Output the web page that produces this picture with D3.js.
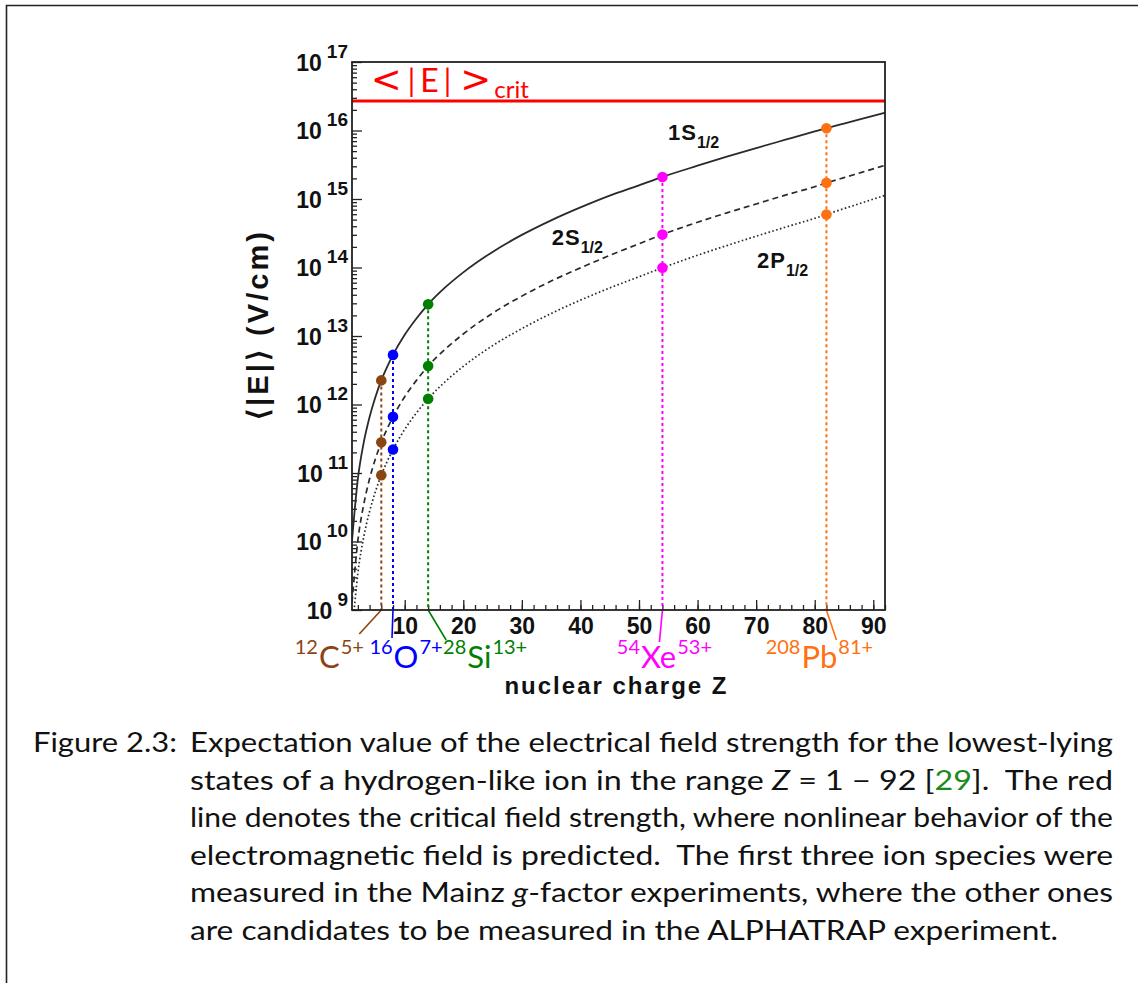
<!DOCTYPE html>
<html>
<head>
<meta charset="utf-8">
<script src="https://cdn.jsdelivr.net/npm/d3@7"></script>
<style>
  html, body { margin: 0; padding: 0; background: #fff; }
  svg { display: block; }
</style>
</head>
<body>
<svg id="fig" width="1138" height="983"></svg>
<script>
// ---- data -------------------------------------------------------------
// nuclear charge grid used for the three bound-state curves
const zGrid = [1, 2, 3, 4, 5, 6, 7, 8, 10, 12, 14, 17, 20, 25, 30, 35, 40, 45, 50, 54, 60, 65, 70, 75, 80, 82, 85, 88, 92];

// expectation value <|E|> in V/cm for each state
const field1S = [1.03e10, 8.2e10, 2.78e11, 6.58e11, 1.29e12, 2.25e12, 3.54e12, 5.3e12, 1.04e13, 1.80e13, 2.9e13,
                 5.2e13, 8.5e13, 1.69e14, 2.99e14, 4.88e14, 7.53e14, 1.12e15, 1.58e15, 2.1e15, 3.06e15, 4.15e15,
                 5.54e15, 7.33e15, 9.68e15, 1.08e16, 1.26e16, 1.48e16, 1.82e16];
const field2S = [1.29e9, 1.03e10, 3.47e10, 8.22e10, 1.61e11, 2.8e11, 4.42e11, 6.6e11, 1.30e12, 2.25e12, 3.65e12,
                 6.53e12, 1.07e13, 2.15e13, 3.82e13, 6.34e13, 9.87e13, 1.50e14, 2.22e14, 3.03e14, 4.58e14, 6.28e14,
                 8.46e14, 1.14e15, 1.51e15, 1.72e15, 2.05e15, 2.45e15, 3.1e15];
const field2P = [4.3e8, 3.43e9, 1.16e10, 2.74e10, 5.35e10, 9.3e10, 1.47e11, 2.2e11, 4.33e11, 7.55e11, 1.21e12,
                 2.19e12, 3.6e12, 7.23e12, 1.28e13, 2.13e13, 3.34e13, 5.03e13, 7.33e13, 9.9e13, 1.51e14, 2.09e14,
                 2.86e14, 3.88e14, 5.22e14, 5.95e14, 7.23e14, 8.76e14, 1.13e15];

const stateNames = ["1S", "2S", "2P"];
const stateSub = "1/2";

// critical field strength
const critField = 2.7e16;

// ion species marked on the curves
const ionZ      = [6, 8, 14, 54, 82];
const ionMass   = ["12", "16", "28", "54", "208"];
const ionSymbol = ["C", "O", "Si", "Xe", "Pb"];
const ionCharge = ["5+", "7+", "13+", "53+", "81+"];

// axis ticks
const xMajorTicks = [10, 20, 30, 40, 50, 60, 70, 80, 90];
const xMinorTicks = d3.range(2, 93, 2);
const yDecades = [9, 10, 11, 12, 13, 14, 15, 16, 17];

// caption
const captionHead = "Figure 2.3:";
const captionLines = [
  [{t: "Expectation value of the electrical field strength for the lowest-lying"}],
  [{t: "states of a hydrogen-like ion in the range "}, {t: "Z", i: true}, {t: " = 1 \u2212 92 ["}, {t: "29", c: "link"}, {t: "].  The red"}],
  [{t: "line denotes the critical field strength, where nonlinear behavior of the"}],
  [{t: "electromagnetic field is predicted.  The first three ion species were"}],
  [{t: "measured in the Mainz "}, {t: "g", i: true}, {t: "-factor experiments, where the other ones"}],
  [{t: "are candidates to be measured in the ALPHATRAP experiment."}]
];

// ---- styling -----------------------------------------------------------
const ionColors = ["#8b4513", "#0000ff", "#008000", "#ff00ff", "#ff7010"];
const stateDash = [null, "6,4", "1.6,2.4"];
const ROOTFONT = "'Liberation Sans', Arial, Helvetica, sans-serif";
const TEXFONT = "Lato, 'Open Sans', sans-serif";
const SYMFONT = "'DejaVu Sans', sans-serif";

// ---- layout -------------------------------------------------------------
const svg = d3.select("#fig");
const plot = {left: 352, top: 62, right: 885, bottom: 610};

const x = d3.scaleLinear().domain([1, 92]).range([plot.left, plot.right]);
const y = d3.scaleLog().domain([1e9, 1e17]).range([plot.bottom, plot.top]);

// page border (open to the right and bottom)
svg.append("path")
  .attr("d", "M6.5,983 V5.5 H1138")
  .attr("fill", "none").attr("stroke", "#222").attr("stroke-width", 1.6);

// clip for the curves
svg.append("clipPath").attr("id", "plotClip")
  .append("rect")
  .attr("x", plot.left).attr("y", plot.top)
  .attr("width", plot.right - plot.left).attr("height", plot.bottom - plot.top);

// ---- axes -------------------------------------------------------------
const gx = svg.append("g").attr("transform", `translate(0,${plot.bottom})`);
gx.append("g")
  .call(d3.axisBottom(x).tickValues(xMinorTicks).tickSize(-5).tickFormat(""))
  .call(g => g.select(".domain").remove());
gx.append("g")
  .call(d3.axisBottom(x).tickValues(xMajorTicks).tickSize(-10).tickPadding(8).tickFormat(d3.format("d")))
  .call(g => g.select(".domain").remove())
  .call(g => g.selectAll("text").attr("font-family", ROOTFONT).attr("font-weight", "bold")
                .attr("font-size", 23).attr("fill", "#111"));
gx.selectAll("line").attr("stroke", "#222").attr("stroke-width", 1.3);

const yMinor = [];
yDecades.slice(0, -1).forEach(d => { for (let k = 2; k <= 9; k++) yMinor.push(k * Math.pow(10, d)); });
const yMajor = yDecades.map(d => Math.pow(10, d));

const gy = svg.append("g").attr("transform", `translate(${plot.left},0)`);
gy.append("g")
  .call(d3.axisLeft(y).tickValues(yMinor).tickSize(-5).tickFormat(""))
  .call(g => g.select(".domain").remove());
gy.append("g")
  .call(d3.axisLeft(y).tickValues(yMajor).tickSize(-10).tickPadding(4).tickFormat(""))
  .call(g => g.select(".domain").remove())
  .call(g => g.selectAll(".tick text").each(function(d) {
      const t = d3.select(this)
        .attr("font-family", ROOTFONT).attr("font-weight", "bold").attr("fill", "#111")
        .attr("dy", null).attr("x", -4);
      t.append("tspan").attr("font-size", 23).attr("dy", 8).text("10");
      t.append("tspan").attr("font-size", 19).attr("dx", 5).attr("dy", -13)
        .text(Math.round(Math.log10(d)));
  }));
gy.selectAll("line").attr("stroke", "#222").attr("stroke-width", 1.3);

// ---- curves -------------------------------------------------------------
const series = [field1S, field2S, field2P];
const line = d3.line()
  .x((d, i) => x(zGrid[i]))
  .y(d => y(d))
  .curve(d3.curveMonotoneX);

const curves = svg.append("g").attr("clip-path", "url(#plotClip)");
series.forEach((vals, k) => {
  curves.append("path")
    .datum(vals)
    .attr("d", line)
    .attr("fill", "none")
    .attr("stroke", "#2a2a2a")
    .attr("stroke-width", k === 0 ? 1.8 : 1.7)
    .attr("stroke-dasharray", stateDash[k]);
});

// critical field line
svg.append("line")
  .attr("x1", plot.left).attr("x2", plot.right)
  .attr("y1", y(critField)).attr("y2", y(critField))
  .attr("stroke", "#ff0000").attr("stroke-width", 3);

// <|E|>_crit label, set in math-like spacing
const critLabel = svg.append("text")
  .attr("x", x(4.2)).attr("y", y(Math.pow(10, 16.562)))
  .attr("font-family", TEXFONT).attr("font-size", 30).attr("fill", "#ff0000");
critLabel.append("tspan").attr("font-family", SYMFONT).attr("font-size", 37).text("<");
critLabel.append("tspan").attr("dx", 6).text("|");
critLabel.append("tspan").attr("dx", 5).attr("font-size", 32).text("E");
critLabel.append("tspan").attr("dx", 5).text("|");
critLabel.append("tspan").attr("dx", 9).attr("font-family", SYMFONT).attr("font-size", 37).text(">");
critLabel.append("tspan").attr("font-size", 24).attr("dx", 3).attr("dy", 6).text("crit");

// state labels
const stateLabelAt = [[54.95, 15.861], [35.1, 14.33], [70.15, 14.0]];
stateNames.forEach((name, k) => {
  const t = svg.append("text")
    .attr("x", x(stateLabelAt[k][0])).attr("y", y(Math.pow(10, stateLabelAt[k][1])))
    .attr("font-family", ROOTFONT).attr("font-weight", "bold").attr("fill", "#111");
  t.append("tspan").attr("font-size", 22).attr("letter-spacing", 1).text(name);
  t.append("tspan").attr("font-size", 16).attr("dx", 0).attr("dy", 8).text(stateSub);
});

// ---- ion markers --------------------------------------------------------
const leaderOffset = [[-22, 24], [-1, 28], [18, 30], [-3, 32], [10, 30]];
const labelCenterDx = [-52, 13, 57, 2, -7];

ionZ.forEach((z, i) => {
  const idx = zGrid.indexOf(z);
  const col = ionColors[i];
  const xi = x(z);
  const vals = series.map(s => s[idx]);

  svg.append("line")
    .attr("x1", xi).attr("x2", xi)
    .attr("y1", y(vals[0])).attr("y2", plot.bottom)
    .attr("stroke", col).attr("stroke-width", 2).attr("stroke-dasharray", "3,3");

  svg.append("line")
    .attr("x1", xi).attr("y1", plot.bottom)
    .attr("x2", xi + leaderOffset[i][0]).attr("y2", plot.bottom + leaderOffset[i][1])
    .attr("stroke", col).attr("stroke-width", 1.6);

  svg.selectAll(null).data(vals).enter().append("circle")
    .attr("cx", xi).attr("cy", d => y(d)).attr("r", 5.3)
    .attr("fill", col);

  const t = svg.append("text")
    .attr("x", xi + labelCenterDx[i]).attr("y", 668)
    .attr("text-anchor", "middle")
    .attr("font-family", TEXFONT).attr("fill", col);
  t.append("tspan").attr("font-size", 20).attr("dy", -14).text(ionMass[i]);
  t.append("tspan").attr("font-size", 31).attr("dx", 1).attr("dy", 14).text(ionSymbol[i]);
  t.append("tspan").attr("font-size", 20).attr("dx", 1).attr("dy", -14).text(ionCharge[i]);
});

// plot frame
svg.append("rect")
  .attr("x", plot.left).attr("y", plot.top)
  .attr("width", plot.right - plot.left).attr("height", plot.bottom - plot.top)
  .attr("fill", "none").attr("stroke", "#222").attr("stroke-width", 1.8);

// axis titles
svg.append("text")
  .attr("x", (plot.left + plot.right) / 2 - 2).attr("y", 694)
  .attr("text-anchor", "middle")
  .attr("font-family", ROOTFONT).attr("font-weight", "bold").attr("font-size", 24)
  .attr("letter-spacing", 2).attr("fill", "#111")
  .text("nuclear charge Z");

svg.append("text")
  .attr("transform", "translate(268,326) rotate(-90)")
  .attr("text-anchor", "middle")
  .attr("font-family", ROOTFONT).attr("font-weight", "bold").attr("font-size", 29)
  .attr("textLength", 188).attr("lengthAdjust", "spacing")
  .attr("fill", "#111")
  .text("\u27E8|E|\u27E9 (V/cm)");

// ---- caption ------------------------------------------------------------
const capX = 190, capRight = 1113, capTop = 752, capStep = 37.6;
svg.append("text")
  .attr("x", 33).attr("y", capTop)
  .attr("font-family", TEXFONT).attr("font-size", 27).attr("fill", "#111")
  .attr("textLength", 144).attr("lengthAdjust", "spacingAndGlyphs")
  .text(captionHead);

captionLines.forEach((parts, j) => {
  const last = j === captionLines.length - 1;
  const t = svg.append("text")
    .attr("x", capX).attr("y", capTop + j * capStep)
    .attr("font-family", TEXFONT).attr("font-size", 27).attr("fill", "#111")
    .attr("textLength", last ? 868 : capRight - capX)
    .attr("lengthAdjust", "spacingAndGlyphs")
    .attr("xml:space", "preserve");
  parts.forEach(p => {
    const s = t.append("tspan").text(p.t);
    if (p.i) s.attr("font-style", "italic");
    if (p.c) s.attr("fill", "#1a8a1a");
  });
});
</script>
</body>
</html>
